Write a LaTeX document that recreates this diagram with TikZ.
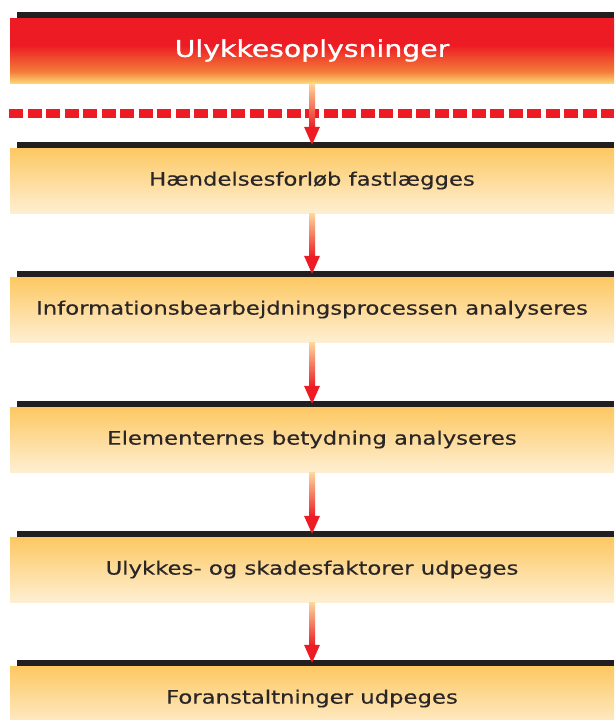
\documentclass[tikz,border=0pt]{standalone}
\usepackage{fontspec}
\setmainfont[FakeStretch=1.23,FakeBold=0.4]{DejaVu Sans}
\newfontfamily\headfont[FakeStretch=1.23,FakeBold=1.2]{DejaVu Sans}
\usetikzlibrary{calc}
\definecolor{redc}{HTML}{ED1C24}
\definecolor{orng}{HTML}{F37B38}
\definecolor{lyel}{HTML}{FDD576}
\definecolor{boxtop}{HTML}{FDC862}
\definecolor{boxbot}{HTML}{FEEFD2}
\definecolor{shafttop}{HTML}{FDD89C}
\definecolor{txt}{HTML}{2A2627}
\definecolor{bar}{HTML}{231F20}
\pgfdeclareverticalshading{redfade}{100bp}{color(0bp)=(lyel); color(25bp)=(lyel); color(34bp)=(orng); color(54bp)=(redc); color(100bp)=(redc)}
\begin{document}
\begin{tikzpicture}[x=1pt,y=-1pt,
  stepbox/.style={minimum width=604pt, minimum height=65pt, inner sep=0pt,
    top color=boxtop, bottom color=boxbot, text=txt,
    font=\fontsize{18.5}{20}\selectfont},
  headbox/.style={minimum width=604pt, minimum height=65pt, inner sep=0pt,
    shading=redfade, text=white, font=\headfont\fontsize{23}{25}\selectfont},
  topbar/.style={fill=bar},
  shaft/.style={top color=shafttop, bottom color=redc},
  head/.style={fill=redc}]
\useasboundingbox (0,0) rectangle (614,720);
% boxes
\node[headbox] (ulyk) at (312,50.5){Ulykkesoplysninger};
\node[stepbox] (forl) at (312,180.5){Hændelsesforløb fastlægges};
\node[stepbox] (info) at (312,309.5){Informationsbearbejdningsprocessen analyseres};
\node[stepbox] (elem) at (312,439.5){Elementernes betydning analyseres};
\node[stepbox] (fakt) at (312,569.5){Ulykkes- og skadesfaktorer udpeges};
\node[stepbox] (fora) at (312,698.5){Foranstaltninger udpeges};
% black bars
\fill[topbar] ($(ulyk.north west)+(7,-6)$) rectangle (ulyk.north east);
\fill[topbar] ($(forl.north west)+(7,-6)$) rectangle (forl.north east);
\fill[topbar] ($(info.north west)+(7,-6)$) rectangle (info.north east);
\fill[topbar] ($(elem.north west)+(7,-6)$) rectangle (elem.north east);
\fill[topbar] ($(fakt.north west)+(7,-6)$) rectangle (fakt.north east);
\fill[topbar] ($(fora.north west)+(7,-6)$) rectangle (fora.north east);
% dashed line
\coordinate (dashl) at (9,113);
\coordinate (dashr) at (614,113);
\draw[redc, line width=9pt, dash pattern=on 14pt off 4.5pt] (dashl) -- (dashr);
% arrows
\shade[shaft] ($(ulyk.south)+(-3,0)$) rectangle ($(forl.north)+(3,-20)$);
\fill[head] ($(forl.north)+(-8,-21)$) -- ($(forl.north)+(8,-21)$) -- ($(forl.north)+(0,-3)$) -- cycle;
\shade[shaft] ($(forl.south)+(-3,0)$) rectangle ($(info.north)+(3,-20)$);
\fill[head] ($(info.north)+(-8,-21)$) -- ($(info.north)+(8,-21)$) -- ($(info.north)+(0,-3)$) -- cycle;
\shade[shaft] ($(info.south)+(-3,0)$) rectangle ($(elem.north)+(3,-20)$);
\fill[head] ($(elem.north)+(-8,-21)$) -- ($(elem.north)+(8,-21)$) -- ($(elem.north)+(0,-3)$) -- cycle;
\shade[shaft] ($(elem.south)+(-3,0)$) rectangle ($(fakt.north)+(3,-20)$);
\fill[head] ($(fakt.north)+(-8,-21)$) -- ($(fakt.north)+(8,-21)$) -- ($(fakt.north)+(0,-3)$) -- cycle;
\shade[shaft] ($(fakt.south)+(-3,0)$) rectangle ($(fora.north)+(3,-20)$);
\fill[head] ($(fora.north)+(-8,-21)$) -- ($(fora.north)+(8,-21)$) -- ($(fora.north)+(0,-3)$) -- cycle;
\end{tikzpicture}
\end{document}
